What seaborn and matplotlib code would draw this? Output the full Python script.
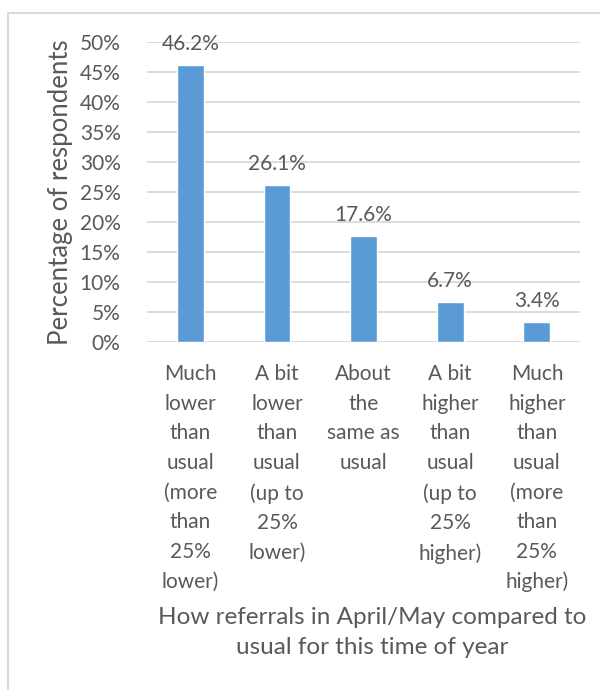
import matplotlib
matplotlib.use("Agg")
import matplotlib.pyplot as plt
import seaborn as sns
import pandas as pd
from matplotlib.patches import Rectangle

categories = [
    "Much\nlower\nthan\nusual\n(more\nthan\n25%\nlower)",
    "A bit\nlower\nthan\nusual\n(up to\n25%\nlower)",
    "About\nthe\nsame as\nusual",
    "A bit\nhigher\nthan\nusual\n(up to\n25%\nhigher)",
    "Much\nhigher\nthan\nusual\n(more\nthan\n25%\nhigher)",
]
percentages = [46.2, 26.1, 17.6, 6.7, 3.4]
y_ticks = [0, 5, 10, 15, 20, 25, 30, 35, 40, 45, 50]

sns.set_theme(style="white")
plt.rcParams["font.family"] = ["Lato", "DejaVu Sans"]

text_color = "#595959"
bar_color = "#5B9BD5"
grid_color = "#D9D9D9"

df = pd.DataFrame({"category": categories, "pct": percentages})

fig = plt.figure(figsize=(6, 6.9), dpi=100)
ax = fig.add_axes([0.245, 0.5043, 0.722, 0.4348])

sns.barplot(data=df, x="category", y="pct", color=bar_color, width=0.31,
            saturation=1, ax=ax, zorder=3)

ax.set_ylim(0, 50)
ax.set_xlim(-0.5, 4.5)
ax.set_yticks(y_ticks)
ax.set_yticklabels([f"{t}%" for t in y_ticks])
ax.yaxis.grid(True, color=grid_color, linewidth=1.3, zorder=0)
ax.set_axisbelow(True)
for s in ax.spines.values():
    s.set_visible(False)
ax.tick_params(axis="both", length=0, colors=text_color, labelsize=15)
ax.tick_params(axis="y", pad=19)
ax.tick_params(axis="x", pad=16)
for lbl in ax.get_xticklabels():
    lbl.set_linespacing(1.6)
    lbl.set_verticalalignment("top")

ax.bar_label(ax.containers[0], labels=[f"{v:.1f}%" for v in percentages],
             padding=8, fontsize=15, color=text_color)

ax.set_xlabel("")
ax.set_ylabel("Percentage of respondents", fontsize=18.5, color=text_color)
ax.yaxis.set_label_coords(-0.171, 0.5)

fig.text(0.62, 0.083, "How referrals in April/May compared to\nusual for this time of year",
         ha="center", va="center", fontsize=17.5, color=text_color, linespacing=1.5)

# chart frame
fig.patches.append(Rectangle((8 / 600, -0.05), 1.2, 1 - 13 / 690 + 0.05,
                             transform=fig.transFigure, fill=False,
                             edgecolor="#D9D9D9", linewidth=1.5))

fig.savefig("out.png", dpi=100)
